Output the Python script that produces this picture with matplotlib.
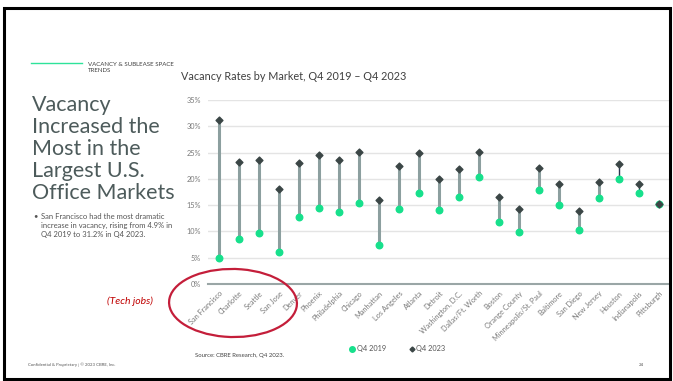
import numpy as np
import matplotlib.pyplot as plt
from matplotlib.lines import Line2D
from matplotlib.patches import Ellipse, Rectangle

plt.rcParams['font.family'] = ['Lato', 'DejaVu Sans']

markets = ['San Francisco', 'Charlotte', 'Seattle', 'San Jose', 'Denver', 'Phoenix',
           'Philadelphia', 'Chicago', 'Manhattan', 'Los Angeles', 'Atlanta', 'Detroit',
           'Washington, D.C.', 'Dallas/Ft. Worth', 'Boston', 'Orange County',
           'Minneapolis/St. Paul', 'Baltimore', 'San Diego', 'New Jersey', 'Houston',
           'Indianapolis', 'Pittsburgh']
q4_2019 = [4.9, 8.5, 9.7, 6.1, 12.8, 14.4, 13.7, 15.5, 7.5, 14.3, 17.3, 14.1,
           16.5, 20.3, 11.7, 9.9, 17.9, 15.0, 10.3, 16.3, 20.0, 17.4, 15.2]
q4_2023 = [31.2, 23.2, 23.6, 18.1, 23.1, 24.6, 23.6, 25.1, 15.9, 22.5, 24.9, 20.0,
           21.8, 25.2, 16.5, 14.3, 22.1, 19.1, 13.8, 19.4, 22.9, 19.0, 15.2]
yticks = [0, 5, 10, 15, 20, 25, 30, 35]

green = '#17e08c'
dark = '#3b4646'
stem = '#8c9f9f'
grey_txt = '#7a7a7a'

W, H = 673, 381
fig = plt.figure(figsize=(W / 100, H / 100), dpi=100)
ax = fig.add_axes([208 / W, 1 - 284 / H, 462 / W, 184 / H])

x = np.arange(len(markets))
lo = np.array(q4_2019)
hi = np.array(q4_2023)

# Houston and Indianapolis stems are drawn darker/thinner
stem_cols = [stem] * len(markets)
stem_lw = [2.2] * len(markets)
for name in ('Houston', 'Indianapolis'):
    i = markets.index(name)
    stem_cols[i] = '#2c3650'
    stem_lw[i] = 1.0
ax.vlines(x, lo, hi, colors=stem_cols, linewidths=stem_lw, zorder=2)
ax.scatter(x, lo, s=22, color=green, zorder=3, label='Q4 2019')
ax.scatter(x, hi, s=12, marker='D', color=dark, zorder=4, label='Q4 2023')

ax.set_xlim(-0.55, 22.55)
ax.set_ylim(0, 35)
ax.set_yticks(yticks)
ax.set_yticklabels([f'{v}%' for v in yticks])
ax.set_xticks(x)
ax.set_xticklabels(markets, rotation=45, ha='right', rotation_mode='anchor')
ax.tick_params(axis='both', length=0, labelsize=5.3, labelcolor=grey_txt)
ax.tick_params(axis='x', pad=4)
ax.tick_params(axis='y', pad=5)
ax.grid(axis='y', color='#e4e4e4', linewidth=1)
ax.set_axisbelow(True)
for side in ('top', 'right', 'left'):
    ax.spines[side].set_visible(False)
ax.spines['bottom'].set_color('#9aa6a6')
ax.spines['bottom'].set_linewidth(1.5)

fig.text(181 / W, 1 - 76 / H, 'Vacancy Rates by Market, Q4 2019 \u2013 Q4 2023',
         fontsize=7.8, color='#404040', va='center')

# legend under the chart
handles = [Line2D([], [], marker='o', ls='', color=green, markersize=4),
           Line2D([], [], marker='D', ls='', color=dark, markersize=2.5)]
fig.legend(handles, ['Q4 2019', 'Q4 2023'], loc='center',
           bbox_to_anchor=(397 / W, 1 - 349 / H), ncol=2, frameon=False,
           fontsize=5.3, labelcolor='#555555', handletextpad=0.1,
           columnspacing=3.0, handlelength=1)

fig.text(195 / W, 1 - 355 / H, 'Source: CBRE Research, Q4 2023.',
         fontsize=4.3, color='#444444', va='center')

# slide header and left-hand text
fig.add_artist(Line2D([31 / W, 82 / W], [1 - 63 / H, 1 - 63 / H], color='#2ee39a', lw=1))
fig.text(88 / W, 1 - 67.5 / H, 'VACANCY & SUBLEASE SPACE\nTRENDS', fontsize=4.4,
         color='#404040', va='center', linespacing=1.05)
fig.text(32 / W, 1 - 95 / H,
         'Vacancy\nIncreased the\nMost in the\nLargest U.S.\nOffice Markets',
         fontsize=15.5, color='#4d5b5b', va='top', linespacing=1.13)
fig.text(33 / W, 1 - 216 / H, '\u2022', fontsize=5.5, color='#555555', va='center')
fig.text(41 / W, 1 - 225.5 / H,
         'San Francisco had the most dramatic\nincrease in vacancy, rising from 4.9% in\n'
         'Q4 2019 to 31.2% in Q4 2023.',
         fontsize=5.5, color='#555555', va='center', linespacing=1.25)

# hand-drawn circle around the tech markets
fig.add_artist(Ellipse((233 / W, 1 - 303 / H), 128 / W, 68 / H, angle=-8,
                       transform=fig.transFigure, fill=False,
                       edgecolor='#c41e3a', lw=1.6))
fig.text(130 / W, 1 - 301 / H, '(Tech jobs)', fontsize=7.5, color='#c00000',
         style='italic', ha='center', va='center')

fig.text(28 / W, 1 - 365 / H, 'Confidential & Proprietary | \u00a9 2023 CBRE, Inc.',
         fontsize=3.1, color='#555555', va='center')
fig.text(639 / W, 1 - 365 / H, '24', fontsize=3.2, color='#555555', va='center')

# slide border
fig.add_artist(Rectangle((4 / W, 1 - 379 / H), 666 / W, 371 / H,
                         transform=fig.transFigure, fill=False,
                         edgecolor='black', lw=2.2))

fig.savefig('out.png', dpi=100)
